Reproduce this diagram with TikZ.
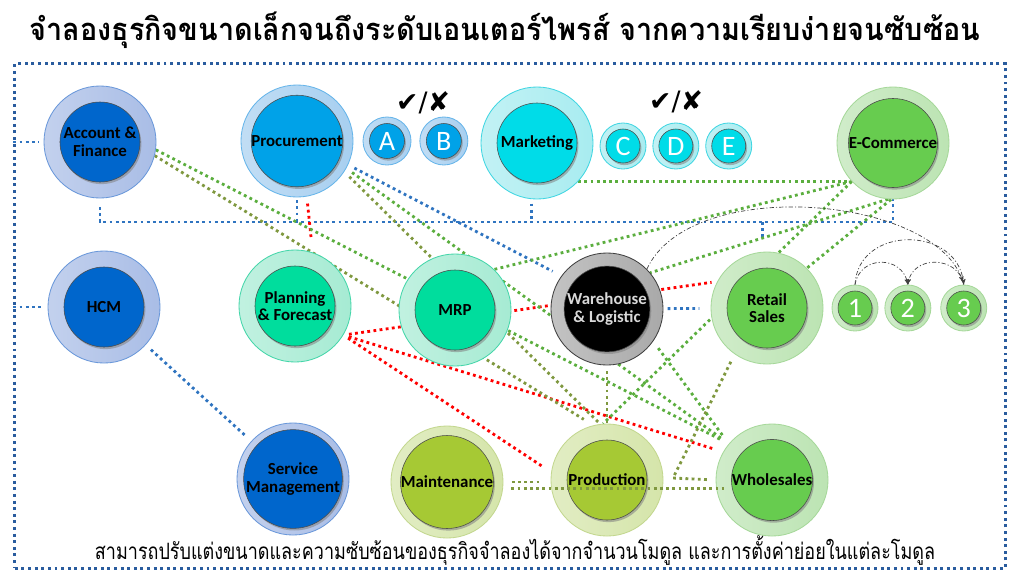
\documentclass[tikz,border=0pt]{standalone}
\usepackage{fontspec}
\newfontfamily\labelfont{Carlito}
\newfontfamily\thaifont[Script=Thai]{Loma}
\newfontfamily\symbolfont{DejaVu Sans}
\usetikzlibrary{arrows,shapes,shadows,backgrounds,positioning}
\definecolor{bluering}{HTML}{A9BDE6}
\definecolor{blueline}{HTML}{6A98DA}
\definecolor{bluecore}{HTML}{0066CC}
\definecolor{skyring}{HTML}{A7CFF0}
\definecolor{skyline}{HTML}{66B5EA}
\definecolor{skycore}{HTML}{00A2E8}
\definecolor{cyanring}{HTML}{A8ECF0}
\definecolor{cyanline}{HTML}{40D6E2}
\definecolor{cyancore}{HTML}{00DCE8}
\definecolor{greenring}{HTML}{BCE4B3}
\definecolor{greenline}{HTML}{A6D89A}
\definecolor{greencore}{HTML}{67CC4F}
\definecolor{tealring}{HTML}{A6EBD3}
\definecolor{tealline}{HTML}{45D6AA}
\definecolor{tealcore}{HTML}{00DD9D}
\definecolor{olivering}{HTML}{D5E5AA}
\definecolor{oliveline}{HTML}{C3D78F}
\definecolor{olivecore}{HTML}{A6C934}
\definecolor{grayring}{HTML}{A9A9A9}
\definecolor{grayline}{HTML}{404040}
\definecolor{graycore}{HTML}{000000}
\definecolor{linkblue}{HTML}{2F74C0}
\definecolor{linkgreen}{HTML}{5BAE3E}
\definecolor{linkolive}{HTML}{7F983F}
\definecolor{linkred}{HTML}{FF0000}
\definecolor{frameblue}{HTML}{2A5C9E}
\tikzset{
>=stealth',
  modring/.style={
    circle, 
    minimum size=2.8cm, 
    inner sep=0pt,
    line width=0.6pt,
    draw=#1line, 
    left color=#1ring!70!white, 
    right color=#1ring},
  modcore/.style={
    circle, 
    minimum size=2cm, 
    inner sep=0pt,
    fill=#1core, 
    draw=black!70, line width=0.4pt,
    drop shadow={shadow xshift=1pt, shadow yshift=-1.5pt, opacity=0.55},
    align=center,
    font=\labelfont\bfseries\fontsize{12}{12.5}\selectfont},
  badgering/.style={modring=#1, minimum size=1.2cm},
  badgecore/.style={modcore=#1, minimum size=0.875cm, text=white,
    font=\labelfont\fontsize{20}{20}\selectfont},
  frame/.style={draw=frameblue, line width=2.1pt, dash pattern=on 2.1pt off 2.6pt, inner sep=0pt},
  blink/.style={draw=linkblue, line width=2pt, dash pattern=on 2pt off 2.4pt},
  glink/.style={draw=linkgreen, line width=2pt, dash pattern=on 2pt off 2.4pt},
  olink/.style={draw=linkolive, line width=2pt, dash pattern=on 2pt off 2.4pt},
  rlink/.style={draw=linkred, line width=2pt, dash pattern=on 2pt off 2.4pt},
  cyclearc/.style={draw=black!75, line width=0.5pt, dash pattern=on 3pt off 1.5pt on 0.8pt off 1.5pt, ->},
}

\begin{document}
\begin{tikzpicture}[x=0.025cm, y=-0.025cm]
  \useasboundingbox (0,0) rectangle (1024,580);

  \node[frame, minimum width=24.75cm, minimum height=12.6cm] (box) at (510,316) {};
  \node[font=\thaifont\bfseries\fontsize{22}{26}\selectfont] (title) at (505,30)
    {\scalebox{0.93}[1]{จำลองธุรกิจขนาดเล็กจนถึงระดับเอนเตอร์ไพรส์ จากความเรียบง่ายจนซับซ้อน}};
  \node[font=\thaifont\fontsize{16}{19}\selectfont] (note) at (515,551)
    {\scalebox{0.8}[1]{สามารถปรับแต่งขนาดและความซับซ้อนของธุรกิจจำลองได้จากจำนวนโมดูล และการตั้งค่าย่อยในแต่ละโมดูล}};

  % left column
  \node[modring=blue] (acc) at (100,142) {};
  \node[modcore=blue] (acc-c) at (acc) {Account \&\\Finance};
  \node[modring=blue] (hcm) at (104,307) {};
  \node[modcore=blue] (hcm-c) at (hcm) {HCM};
  \node[modring=blue] (svc) at (293,479) {};
  \node[modcore=blue] (svc-c) at (svc) {Service\\Management};

  % top row
  \node[modring=sky] (proc) at (297,141) {};
  \node[modcore=sky] (proc-c) at (proc) {Procurement};
  \node[badgering=sky] (a) at (387,141) {};
  \node[badgecore=sky] (a-c) at (a) {A};
  \node[badgering=sky, right=0.2cm of a] (b) {};
  \node[badgecore=sky] (b-c) at (b) {B};
  \node[font=\symbolfont\fontsize{19}{19}\selectfont] (ab-mark) at (423,103) {✔/✘};

  \node[modring=cyan] (mkt) at (537,143) {};
  \node[modcore=cyan] (mkt-c) at (mkt) {Marketing};
  \node[badgering=cyan, minimum size=1.15cm] (c) at (623,146) {};
  \node[badgecore=cyan, minimum size=0.85cm] (c-c) at (c) {C};
  \node[badgering=cyan, minimum size=1.15cm, right=0.15cm of c] (d) {};
  \node[badgecore=cyan, minimum size=0.85cm] (d-c) at (d) {D};
  \node[badgering=cyan, minimum size=1.15cm, right=0.15cm of d] (e) {};
  \node[badgecore=cyan, minimum size=0.85cm] (e-c) at (e) {E};
  \node[font=\symbolfont\fontsize{19}{19}\selectfont] (cde-mark) at (676,102) {✔/✘};

  \node[modring=green] (ecom) at (893,143) {};
  \node[modcore=green] (ecom-c) at (ecom) {E-Commerce};

  % middle row
  \node[modring=teal] (plan) at (295,306) {};
  \node[modcore=teal] (plan-c) at (plan) {Planning\\\& Forecast};
  \node[modring=teal] (mrp) at (455,310) {};
  \node[modcore=teal] (mrp-c) at (mrp) {MRP};
  \node[modring=gray] (wh) at (607,309) {};
  \node[modcore=gray, text=gray!30] (wh-c) at (wh) {Warehouse\\\& Logistic};
  \node[modring=green] (rs) at (767,308) {};
  \node[modcore=green] (rs-c) at (rs) {Retail\\Sales};
  \node[badgering=green, minimum size=1.15cm] (n1) at (855,308) {};
  \node[badgecore=green, minimum size=0.85cm] (n1-c) at (n1) {1};
  \node[badgering=green, minimum size=1.15cm, right=0.15cm of n1] (n2) {};
  \node[badgecore=green, minimum size=0.85cm] (n2-c) at (n2) {2};
  \node[badgering=green, minimum size=1.15cm, right=0.225cm of n2] (n3) {};
  \node[badgecore=green, minimum size=0.85cm] (n3-c) at (n3) {3};

  % bottom row
  \node[modring=olive] (mnt) at (447,482) {};
  \node[modcore=olive] (mnt-c) at (mnt) {Maintenance};
  \node[modring=olive] (prod) at (607,480) {};
  \node[modcore=olive] (prod-c) at (prod) {Production};
  \node[modring=green] (whs) at (772,480) {};
  \node[modcore=green] (whs-c) at (whs) {Wholesales};

  \begin{scope}[on background layer]
    % blue links
    \coordinate (bus) at (0,222);
    \path[blink, shorten >=3pt] (acc.west -| box.west) -- (acc.west);
    \path[blink, shorten >=3pt] (hcm.west -| box.west) -- (hcm.west);
    \path[blink, shorten <=5pt, shorten >=5pt] (hcm) -- (svc);
    \path[blink, shorten <=6pt] (acc.south) -- (acc.south |- bus) -- (ecom.south |- bus) -- (ecom.south);
    \path[blink, shorten <=2pt] (proc.south) -- (proc.south |- bus);
    \path[blink, shorten <=3pt] ([xshift=-4pt]mkt.south) -- ([xshift=-4pt]mkt.south |- bus);
    \path[blink, shorten >=10pt] ([xshift=-3pt]rs.north |- bus) -- ([xshift=-3pt]rs.north);
    \path[blink, shorten <=5pt, shorten >=7pt] (proc.-25) -- (wh.144);
    \path[blink, shorten <=3pt, shorten >=8pt] (wh) -- (rs);
    % red links
    \coordinate (red-end) at (311,237);
    \path[rlink, shorten <=5pt] (proc.-80) -- (red-end);
    \path[rlink, shorten <=4pt, shorten >=4pt] (plan.-31) -- (rs.152);
    \path[rlink, shorten <=4pt, shorten >=7pt] (plan.-31) -- (prod.172);
    \path[rlink, shorten <=4pt, shorten >=7pt] (plan.-31) -- (whs.150);
    % green links
    \path[glink, shorten >=7pt] (acc.-8) -- (whs.140);
    \path[glink] (mkt.-43) -- (ecom.-137);
    \path[glink, shorten <=5pt, shorten >=7pt] (proc.-29) -- (whs.140);
    \path[glink] (ecom.-137) -- (mrp.46);
    \path[glink] (ecom.-137) -- (prod.94);
    \path[glink] (ecom.-95) -- (wh.40);
    \path[glink] (ecom.-92) -- (rs.45);
    \path[glink, shorten <=6pt, shorten >=7pt] (wh.-35) -- (whs.140);
    % olive links
    \coordinate (elbow) at (673,478);
    \path[olink, shorten >=8pt] (acc.-14) -- (prod.104);
    \path[olink, shorten <=5pt, shorten >=2pt] (proc.-33) -- (prod.97);
    \path[olink, shorten <=4pt] (wh.south) -- (prod.north);
    \path[olink, shorten <=6pt, shorten >=5pt] (rs.-125) -- (elbow) -- (whs.west);
    \path[olink, shorten <=6pt, shorten >=7pt] (mnt.east) -- (mnt.east -| prod.west);
  \end{scope}

  \path[olink, shorten <=6pt, shorten >=-6pt] (mnt.-7) -- (mnt.-7 -| whs.west);

  % sub-module cycle
  \path[cyclearc, shorten >=2pt] (wh.45) .. controls (690,175) and (935,195) .. (n3.north);
  \path[cyclearc] (n1.north) .. controls (858,225) and (958,225) .. (n3.north);
  \path[cyclearc] (n1.north) .. controls (860,255) and (902,255) .. (n2.north);
  \path[cyclearc] (n3.north) .. controls (958,255) and (912,255) .. (n2.north);
\end{tikzpicture}
\end{document}
